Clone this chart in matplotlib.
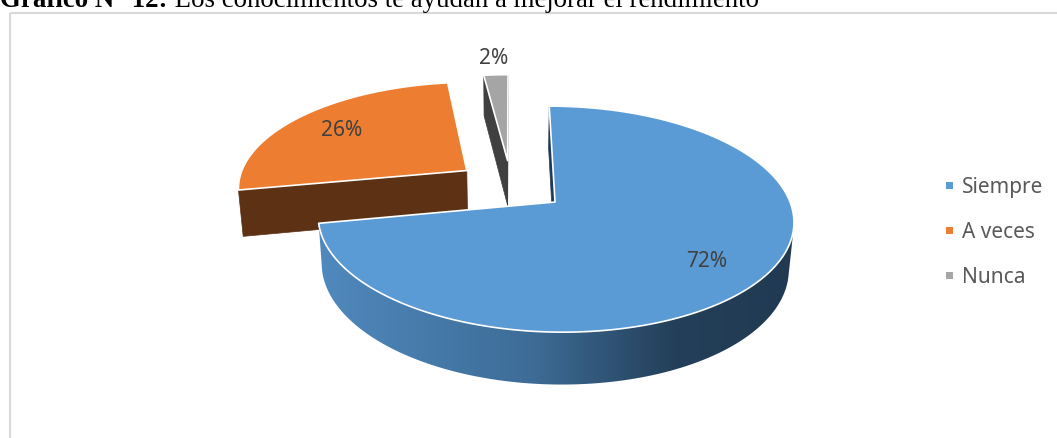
import numpy as np
import matplotlib
matplotlib.use('Agg')
import matplotlib.pyplot as plt
from matplotlib.patches import Polygon, Rectangle
from matplotlib.colors import LinearSegmentedColormap

# ---------------- data ----------------
categories = ['Siempre', 'A veces', 'Nunca']
values = [72, 26, 2]
pct_labels = ['72%', '26%', '2%']
title_bold = 'Gráfico N° 12:'
title_rest = ' Los conocimientos te ayudan a mejorar el rendimiento'

# ---------------- styles ----------------
top_colors = ['#5B9BD5', '#ED7D31', '#A5A5A5']
radial_colors = ['#1F3A56', '#5C3114', '#404040']
side_colors = [None, '#5C3114', '#404040']   # None -> gradient
label_radius = [0.76, 0.75, 1.25]

W_PX, H_PX = 1057, 438
fig = plt.figure(figsize=(W_PX / 100, H_PX / 100), dpi=100)
ax = fig.add_axes([0, 0, 1, 1])
ax.set_xlim(0, W_PX)
ax.set_ylim(H_PX, 0)
ax.axis('off')

# ---------------- 3D projection (layout) ----------------
F = 1378.0
D = 6.0
PHI = np.arcsin(0.459)
H = 0.23
EXPLODE = 0.243
CX, CY = 511.0, 185.3
SA, CA = np.sin(PHI), np.cos(PHI)
CAM = np.array([0.0, -D * CA, D * SA])


def project(X, Y, Z):
    X = np.asarray(X, float); Y = np.asarray(Y, float); Z = np.asarray(Z, float)
    v = Y * SA + Z * CA
    w = D + Y * CA - Z * SA
    return CX + F * X / w, CY - F * v / w


def visible(point, normal):
    return np.dot(normal, CAM - point) > 0


total = float(sum(values))
bounds = np.concatenate([[0], np.cumsum(values)]) / total * 360.0

slices = []
for i in range(len(values)):
    t0, t1 = np.radians(bounds[i]), np.radians(bounds[i + 1])
    tm = 0.5 * (t0 + t1)
    ox, oy = EXPLODE * np.sin(tm), EXPLODE * np.cos(tm)
    slices.append((i, t0, t1, tm, ox, oy))

# draw back slices first
order = sorted(slices, key=lambda s: -s[5])
z = 1

grad_cmap = LinearSegmentedColormap.from_list(
    'side', [(0.0, '#5089BE'), (0.45, '#3D6C96'), (0.75, '#243F59'), (1.0, '#213A52')])

for (i, t0, t1, tm, ox, oy) in order:
    n = max(int((t1 - t0) / np.radians(0.5)), 4)
    th = np.linspace(t0, t1, n)
    axs = ox + np.sin(th)
    ays = oy + np.cos(th)

    # radial faces
    for t, sign in ((t0, -1), (t1, 1)):
        dirv = np.array([np.sin(t), np.cos(t), 0.0])
        normal = np.array([sign * np.cos(t), -sign * np.sin(t), 0.0])
        mid = np.array([ox, oy, -H / 2]) + 0.5 * dirv
        if visible(mid, normal):
            Xs = [ox, ox + np.sin(t), ox + np.sin(t), ox]
            Ys = [oy, oy + np.cos(t), oy + np.cos(t), oy]
            Zs = [0, 0, -H, -H]
            px, py = project(Xs, Ys, Zs)
            ax.add_patch(Polygon(np.column_stack([px, py]), closed=True,
                                 facecolor=radial_colors[i], edgecolor=radial_colors[i],
                                 lw=0.5, zorder=z))
            z += 1

    # outer side (visible part only)
    vis = [k for k in range(n)
           if visible(np.array([axs[k], ays[k], -H / 2]),
                      np.array([np.sin(th[k]), np.cos(th[k]), 0.0]))]
    if len(vis) > 1:
        k0, k1 = vis[0], vis[-1]
        tx, ty = project(axs[k0:k1 + 1], ays[k0:k1 + 1], np.zeros(k1 - k0 + 1))
        bx, by = project(axs[k0:k1 + 1], ays[k0:k1 + 1], -H * np.ones(k1 - k0 + 1))
        pts = np.column_stack([np.concatenate([tx, bx[::-1]]),
                               np.concatenate([ty, by[::-1]])])
        if side_colors[i] is None:
            patch = Polygon(pts, closed=True, facecolor='none', edgecolor='none', zorder=z)
            ax.add_patch(patch)
            x0, x1 = pts[:, 0].min(), pts[:, 0].max()
            y0, y1 = pts[:, 1].min(), pts[:, 1].max()
            grad = np.linspace(0, 1, 256).reshape(1, -1)
            im = ax.imshow(grad, cmap=grad_cmap, extent=(x0, x1, y1, y0),
                           aspect='auto', zorder=z, interpolation='bilinear')
            im.set_clip_path(patch)
        else:
            ax.add_patch(Polygon(pts, closed=True, facecolor=side_colors[i],
                                 edgecolor=side_colors[i], lw=0.5, zorder=z))
        z += 1

    # top face
    px, py = project(np.concatenate([[ox], axs]), np.concatenate([[oy], ays]),
                     np.zeros(n + 1))
    ax.add_patch(Polygon(np.column_stack([px, py]), closed=True,
                         facecolor=top_colors[i], edgecolor='white', lw=1.2,
                         joinstyle='round', zorder=z))
    z += 1

# ---------------- percentage labels ----------------
LABEL_FONT = ['Noto Sans', 'DejaVu Sans']
FS = 15.0
for (i, t0, t1, tm, ox, oy) in slices:
    r = label_radius[i]
    lx, ly = project(ox + r * np.sin(tm), oy + r * np.cos(tm), 0.0)
    ax.text(float(lx), float(ly) + 7.5, pct_labels[i], ha='center', va='baseline',
            fontsize=FS, family=LABEL_FONT, color='#404040', zorder=100)

# ---------------- legend ----------------
leg_x, leg_y0, leg_dy = 946, 185, 45
for k, cat in enumerate(categories):
    yc = leg_y0 + k * leg_dy
    ax.add_patch(Rectangle((leg_x, yc - 3.5), 7, 7, facecolor=top_colors[k],
                           edgecolor='none', zorder=100))
    ax.text(leg_x + 16, yc + 7.8, cat, ha='left', va='baseline', fontsize=FS,
            family=LABEL_FONT, color='#595959', zorder=100)

# ---------------- chart border ----------------
ax.add_patch(Rectangle((10, 13), W_PX + 20, H_PX + 20, facecolor='none',
                       edgecolor='#D9D9D9', lw=1.5, zorder=0.5))

# ---------------- title (partially cut at top) ----------------
fig.canvas.draw()
renderer = fig.canvas.get_renderer()
fs = 18.0
target_right = 759.0
t1 = t2 = None
for _ in range(3):
    if t1 is not None:
        t1.remove(); t2.remove()
    t1 = ax.text(0, 7, title_bold, family=['Liberation Serif', 'DejaVu Serif'],
                 fontweight='bold', fontsize=fs, va='baseline', ha='left', color='black')
    bb1 = t1.get_window_extent(renderer)
    t2 = ax.text(bb1.x1, 7, title_rest, family=['Liberation Serif', 'DejaVu Serif'],
                 fontsize=fs, va='baseline', ha='left', color='black')
    bb2 = t2.get_window_extent(renderer)
    fs *= target_right / bb2.x1

ax.set_xlim(0, W_PX)
ax.set_ylim(H_PX, 0)
fig.savefig('out.png', dpi=100)
